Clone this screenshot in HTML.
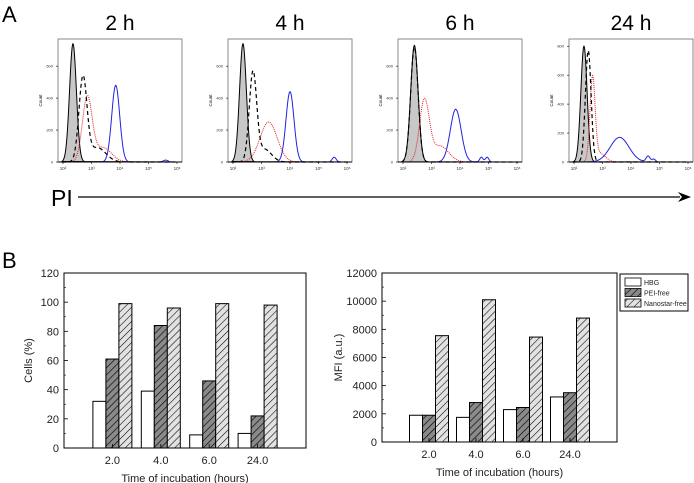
<!DOCTYPE html>
<html><head><meta charset="utf-8">
<style>
body{margin:0;background:#fff;font-family:"Liberation Sans",sans-serif;}
svg{display:block}
</style></head>
<body>
<svg id="fig" width="694" height="483" viewBox="0 0 694 483" xmlns="http://www.w3.org/2000/svg">
<defs>
<pattern id="hatchDark" patternUnits="userSpaceOnUse" width="5" height="5" patternTransform="rotate(45)">
<rect width="5" height="5" fill="#8a8a8a"/><line x1="0" y1="0" x2="0" y2="5" stroke="#000" stroke-width="1.3"/></pattern>
<pattern id="hatchLight" patternUnits="userSpaceOnUse" width="5" height="5" patternTransform="rotate(45)">
<rect width="5" height="5" fill="#e2e2e2"/><line x1="0" y1="0" x2="0" y2="5" stroke="#000" stroke-width="1.1"/></pattern>
</defs>
<text x="2" y="22" font-size="22">A</text>
<text x="2" y="268" font-size="22">B</text>
<text x="51" y="206" font-size="23">PI</text>
<line x1="78" y1="197" x2="680" y2="197" stroke="#000" stroke-width="1.3"/>
<polygon points="678,192 691,197 678,202 682,197" fill="#000"/>
<g id="hists"></g>
<g id="bars1"></g>
<g id="bars2"></g>
</svg>
<script>
// ---- Histogram data (log10 position, height, width) ----
const histTitles = ["2 h","4 h","6 h","24 h"];
const histYMax = [770,770,770,850];
const histYTicks = [[0,200,400,600],[0,200,400,600],[0,200,400,600],[0,200,400,600,800]];
const grayPeaks = [[[2.35,740,0.12]],[[2.35,740,0.12]],[[2.4,730,0.13]],[[2.35,800,0.11]]];
const dashPeaks = [[[2.7,520,0.14],[3.2,90,0.3]],[[2.7,550,0.13],[3.1,80,0.25]],[[2.4,720,0.13]],[[2.5,770,0.1]]];
const redPeaks = [[[2.85,400,0.17],[3.4,90,0.3]],[[3.25,250,0.3]],[[2.75,380,0.17],[3.3,100,0.3]],[[2.65,570,0.09],[2.9,60,0.2]]];
const bluePeaks = [[[3.85,480,0.14],[5.6,12,0.08]],[[4.0,440,0.14],[5.55,30,0.07]],[[3.85,330,0.19],[4.75,30,0.06],[4.95,30,0.06]],[[3.6,170,0.33],[4.6,40,0.07],[4.8,20,0.06]]];
const panelX = [58,228,398,569];
const PW=124, PT=39, PB=162;
const NS="http://www.w3.org/2000/svg";
function mk(tag,attrs,parent){const e=document.createElementNS(NS,tag);for(const k in attrs)e.setAttribute(k,attrs[k]);parent.appendChild(e);return e;}
const hg=document.getElementById('hists');
function evalPeaks(p,l){let v=0;for(const q of p)v+=q[1]*Math.exp(-0.5*Math.pow((l-q[0])/q[2],2));return v;}
histTitles.forEach((t,i)=>{
  const x0=panelX[i];
  const xs=l=>x0+5+(l-2)*((PW-10)/4);
  const ys=v=>PB-(v/histYMax[i])*(PB-PT);
  const g=mk('g',{},hg);
  
  
  const tt=mk('text',{x:x0+PW/2,y:30,'font-size':21,'text-anchor':'middle'},g);tt.textContent=t;
  
  
  const r=mk('rect',{x:x0,y:PT,width:PW,height:PB-PT,fill:'none',stroke:'#888','stroke-width':1},g);
  
  
  histYTicks[i].forEach(v=>{mk('line',{x1:x0-2,x2:x0,y1:ys(v),y2:ys(v),stroke:'#000','stroke-width':0.6},g);
    const lt=mk('text',{x:x0-5,y:ys(v)+1.5,'font-size':4,'text-anchor':'end',fill:'#333'},g);lt.textContent=v;
    
    });
  for(let d=2;d<=6;d++){const lt=mk('text',{x:xs(d),y:PB+8,'font-size':4.5,'text-anchor':'middle',fill:'#333'},g);lt.textContent='10'+['²','³','⁴','⁵','⁶'][d-2];
    
    
    mk('line',{x1:xs(d),x2:xs(d),y1:PB,y2:PB+2,stroke:'#000','stroke-width':0.6},g);}
  const yl=mk('text',{x:x0-16,y:(PT+PB)/2,'font-size':4.5,'text-anchor':'middle',transform:`rotate(-90 ${x0-16} ${(PT+PB)/2})`},g);yl.textContent='Count';
  
  
  const curve=(peaks,close)=>{let d='';for(let l=1.95;l<=6.05;l+=0.01){const v=evalPeaks(peaks,l);d+=(d?'L':'M')+xs(l).toFixed(2)+','+ys(v).toFixed(2);}if(close)d+='Z';return d;};
  const gp=mk('path',{d:curve(grayPeaks[i],true),fill:'#c8c8c8',stroke:'#000','stroke-width':1},g);
  
  
  const bp=mk('path',{d:curve(bluePeaks[i]),fill:'none',stroke:'#2222dd','stroke-width':1},g);
  
  
  const rp=mk('path',{d:curve(redPeaks[i]),fill:'none',stroke:'#e02020','stroke-width':1,'stroke-dasharray':'1,1'},g);
  
  
  const dp=mk('path',{d:curve(dashPeaks[i]),fill:'none',stroke:'#000','stroke-width':1.2,'stroke-dasharray':'4,3'},g);
  
  
  mk('line',{x1:x0,x2:x0+PW,y1:PB,y2:PB,stroke:'#000','stroke-width':1},g);
});

// ---- Bar chart data ----
const categories = ["2.0","4.0","6.0","24.0"];
const cellsHBG = [32,39,9,10];
const cellsPEI = [61,84,46,22];
const cellsNano = [99,96,99,98];
const cellsTicks = [0,20,40,60,80,100,120];
const mfiHBG = [1900,1750,2300,3200];
const mfiPEI = [1900,2800,2450,3500];
const mfiNano = [7550,10100,7450,8800];
const mfiTicks = [0,2000,4000,6000,8000,10000,12000];
const seriesNames = ["HBG","PEI-free","Nanostar-free"];
const fills = ["#fff","url(#hatchDark)","url(#hatchLight)"];

function barChart(gid,box,series,ticks,ymax,ytitle,ytx){
  const g=document.getElementById(gid);
  const xs=i=>box.x+(box.w/5)*(i+1);
  const ys=v=>box.b-(v/ymax)*(box.b-box.t);
  const bw=13;
  series.forEach((s,si)=>{s.forEach((v,ci)=>{
    const r=mk('rect',{x:xs(ci)+(si-1.5)*bw,y:ys(v),width:bw,height:box.b-ys(v),fill:fills[si],stroke:'#000','stroke-width':1},g);
    
    
  });});
  const fr=mk('rect',{x:box.x,y:box.t,width:box.w,height:box.b-box.t,fill:'none',stroke:'#000','stroke-width':1},g);
  
  
  ticks.forEach(v=>{mk('line',{x1:box.x,x2:box.x+4,y1:ys(v),y2:ys(v),stroke:'#000','stroke-width':0.8},g);
    mk('line',{x1:box.x,x2:box.x+2,y1:ys(v+ (ticks[1]-ticks[0])/2),y2:ys(v+(ticks[1]-ticks[0])/2),stroke:'#000','stroke-width':0.6,opacity:v<ymax?1:0},g);
    const t=mk('text',{x:box.x-5,y:ys(v)+4,'font-size':11,'text-anchor':'end',fill:'#222'},g);t.textContent=v;
    
    });
  categories.forEach((c,i)=>{mk('line',{x1:xs(i),x2:xs(i),y1:box.b,y2:box.b-4,stroke:'#000','stroke-width':0.8},g);
    const t=mk('text',{x:xs(i),y:box.b+16,'font-size':11,'text-anchor':'middle',fill:'#222'},g);t.textContent=c;
    
    });
  const xt=mk('text',{x:box.x+box.w/2,y:box.b+34,'font-size':11,'text-anchor':'middle',fill:'#222'},g);xt.textContent='Time of incubation (hours)';
  
  
  const cy=(box.t+box.b)/2;
  const yt=mk('text',{x:ytx,y:cy,'font-size':11,'text-anchor':'middle',fill:'#222',transform:`rotate(-90 ${ytx} ${cy})`},g);yt.textContent=ytitle;
  
  
}
barChart('bars1',{x:64,w:242,t:273,b:448},[cellsHBG,cellsPEI,cellsNano],cellsTicks,120,'Cells (%)',32);
barChart('bars2',{x:382,w:235,t:273,b:442},[mfiHBG,mfiPEI,mfiNano],mfiTicks,12000,'MFI (a.u.)',342);

// legend
const lg=mk('g',{},document.getElementById('bars2'));


mk('rect',{x:620,y:274,width:68,height:37,fill:'#fff',stroke:'#000','stroke-width':1},lg);
seriesNames.forEach((n,i)=>{
  const y=278+i*10.5;
  mk('rect',{x:625,y:y,width:16,height:8,fill:fills[i],stroke:'#000','stroke-width':0.8},lg);
  const t=mk('text',{x:644,y:y+7,'font-size':7,fill:'#222'},lg);t.textContent=n;
  
  
});
</script>
</body></html>
